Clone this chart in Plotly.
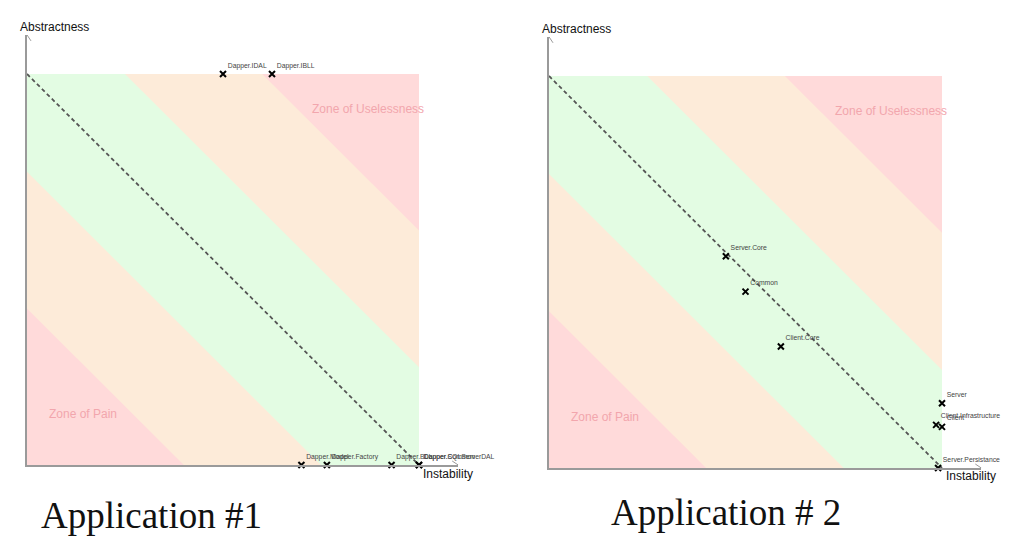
import plotly.graph_objects as go

W, H = 1024, 549
OFFSET = 8  # page body margin

# ---------------- data ----------------
app1_names = ["Dapper.IDAL", "Dapper.IBLL", "Dapper.Model", "Dapper.Factory",
              "Dapper.BLL", "Dapper.Common", "Dapper.SQLServerDAL"]
app1_instability = [0.50, 0.625, 0.70, 0.765, 0.93, 1.0, 1.0]
app1_abstractness = [1.0, 1.0, 0.0, 0.0, 0.0, 0.0, 0.0]

app2_names = ["Server.Core", "Common", "Client.Core", "Server",
              "Client.Infrastructure", "Client", "Server.Persistance"]
app2_instability = [0.45, 0.50, 0.59, 1.0, 0.985, 1.0, 0.99]
app2_abstractness = [0.54, 0.45, 0.31, 0.165, 0.11, 0.105, 0.0]

main_sequence_x = [0, 1]
main_sequence_y = [1, 0]

zone_limits = [0.6, 0.25]          # distance from main sequence
zone_colors = ["#fdebd9", "#e3fce3"]
outer_color = "#ffdada"

titles = ["Application #1", "Application # 2"]

# ---------------- layout helpers ----------------
def px(x):
    return (x - OFFSET) / W

def py(y):
    return 1 - (y - OFFSET) / H

RANGE_MAX = 1.1
# pixel boxes of the unit square for each chart: (x0, x1, ybottom, ytop)
boxes = [(27, 419, 465, 74), (549, 942, 468, 76)]

fig = go.Figure()
shapes = []
annotations = []
axes_ids = [("x", "y"), ("x2", "y2")]
datasets = [(app1_names, app1_instability, app1_abstractness),
            (app2_names, app2_instability, app2_abstractness)]

layout_axes = {}
for i, ((xr, yr), (x0, x1, yb, yt), (names, inst, abst)) in enumerate(zip(axes_ids, boxes, datasets)):
    sx = x1 - x0
    sy = yb - yt
    xdom = [px(x0), px(x0 + sx * RANGE_MAX)]
    ydom = [py(yb), py(yb - sy * RANGE_MAX)]
    axcommon = dict(range=[0, RANGE_MAX], showline=True, linecolor="#9a9a9a", linewidth=1.5,
                    showticklabels=False, showgrid=False, zeroline=False, ticks="",
                    fixedrange=True)
    xkey = "xaxis" if i == 0 else "xaxis2"
    ykey = "yaxis" if i == 0 else "yaxis2"
    layout_axes[xkey] = dict(domain=xdom, anchor=yr, **axcommon)
    layout_axes[ykey] = dict(domain=ydom, anchor=xr, **axcommon)

    # zones
    shapes.append(dict(type="rect", xref=xr, yref=yr, x0=0, x1=1, y0=0, y1=1,
                       fillcolor=outer_color, line=dict(width=0), layer="below"))
    for t, c in zip(zone_limits, zone_colors):
        path = (f"M 0,{1 - t} L 0,1 L {t},1 L 1,{t} L 1,0 L {1 - t},0 Z")
        shapes.append(dict(type="path", xref=xr, yref=yr, path=path,
                           fillcolor=c, line=dict(width=0), layer="below"))

    # arrowheads
    shapes.append(dict(type="path", xref=xr, yref=yr, xsizemode="pixel", ysizemode="pixel",
                       xanchor=RANGE_MAX, yanchor=0, path="M -6,4 L 0,0 L -6,-4",
                       line=dict(color="#9a9a9a", width=1)))
    shapes.append(dict(type="path", xref=xr, yref=yr, xsizemode="pixel", ysizemode="pixel",
                       xanchor=0, yanchor=RANGE_MAX, path="M -4,-6 L 0,0 L 4,-6",
                       line=dict(color="#9a9a9a", width=1)))

    # main sequence
    fig.add_trace(go.Scatter(x=main_sequence_x, y=main_sequence_y, mode="lines",
                             line=dict(color="#555555", width=1.8, dash="4px,3px"),
                             xaxis=xr, yaxis=yr, hoverinfo="skip", showlegend=False))
    # components
    fig.add_trace(go.Scatter(x=inst, y=abst, mode="markers+text", text=names,
                             textposition="top right",
                             textfont=dict(family="Liberation Sans", size=6.8, color="#444444"),
                             marker=dict(symbol="x-thin", size=6, color="black",
                                         line=dict(color="black", width=2)),
                             xaxis=xr, yaxis=yr, cliponaxis=False, showlegend=False))

    # zone labels
    annotations.append(dict(xref=xr, yref=yr, x=0.87, y=0.91, text="Zone of Uselessness",
                            showarrow=False, font=dict(family="Liberation Sans", size=12, color="#f2a6ad")))
    annotations.append(dict(xref=xr, yref=yr, x=0.142, y=0.13, text="Zone of Pain",
                            showarrow=False, font=dict(family="Liberation Sans", size=12, color="#f2a6ad")))

# axis titles
axis_font = dict(family="Liberation Sans", size=12, color="#111111")
annotations += [
    dict(xref="paper", yref="paper", x=px(18), y=py(27), xanchor="left", yanchor="middle",
         text="Abstractness", showarrow=False, font=axis_font),
    dict(xref="paper", yref="paper", x=px(540), y=py(29), xanchor="left", yanchor="middle",
         text="Abstractness", showarrow=False, font=axis_font),
    dict(xref="paper", yref="paper", x=px(421), y=py(474), xanchor="left", yanchor="middle",
         text="Instability", showarrow=False, font=axis_font),
    dict(xref="paper", yref="paper", x=px(944), y=py(476), xanchor="left", yanchor="middle",
         text="Instability", showarrow=False, font=axis_font),
]

# chart titles
title_font = dict(family="Liberation Serif", size=37, color="#111111")
annotations += [
    dict(xref="paper", yref="paper", x=px(39), y=py(515), xanchor="left", yanchor="middle",
         text=titles[0], showarrow=False, font=title_font),
    dict(xref="paper", yref="paper", x=px(609), y=py(513), xanchor="left", yanchor="middle",
         text=titles[1], showarrow=False, font=title_font),
]

fig.update_layout(width=W, height=H, margin=dict(l=0, r=0, t=0, b=0),
                  paper_bgcolor="white", plot_bgcolor="rgba(0,0,0,0)",
                  shapes=shapes, annotations=annotations, showlegend=False,
                  **layout_axes)

fig.write_html("out.html", config={"displayModeBar": False})
